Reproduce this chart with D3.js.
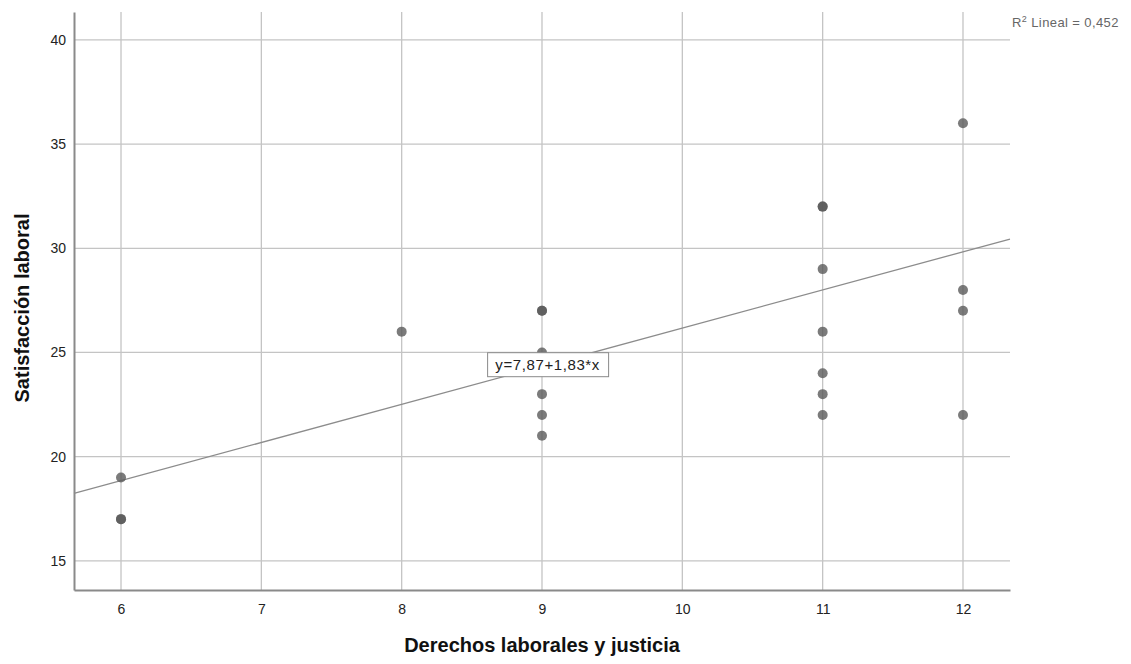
<!DOCTYPE html>
<html>
<head>
<meta charset="utf-8">
<script src="https://cdn.jsdelivr.net/npm/d3@7"></script>
<style>
  html, body { margin: 0; padding: 0; background: #ffffff; }
  svg { display: block; font-family: "Liberation Sans", Arial, sans-serif; }
</style>
</head>
<body>
<div id="chart"></div>
<script>
// datos (los puntos más oscuros son casos repetidos)
const derechos = [6, 6, 6, 8, 9, 9, 9, 9, 9, 9, 11, 11, 11, 11, 11, 11, 11, 12, 12, 12, 12];
const satisfaccion = [19, 17, 17, 26, 27, 27, 25, 23, 22, 21, 32, 32, 29, 26, 24, 23, 22, 36, 28, 27, 22];
const xTicks = [6, 7, 8, 9, 10, 11, 12];
const yTicks = [15, 20, 25, 30, 35, 40];
const intercepto = 7.87;
const pendiente = 1.83;
const etiquetaRecta = "y=7,87+1,83*x";

const width = 1131;
const height = 664;
const margin = { top: 12, right: 121, bottom: 74, left: 74 };

const svg = d3.select("#chart")
  .append("svg")
  .attr("width", width)
  .attr("height", height);

const x = d3.scaleLinear()
  .domain([5.665, 12.335])
  .range([margin.left, width - margin.right]);

const y = d3.scaleLinear()
  .domain([13.6, 41.34])
  .range([height - margin.bottom, margin.top]);

// rejilla
svg.append("g")
  .selectAll("line")
  .data(yTicks)
  .join("line")
  .attr("x1", margin.left)
  .attr("x2", width - margin.right)
  .attr("y1", d => y(d))
  .attr("y2", d => y(d))
  .attr("stroke", "#c4c4c4")
  .attr("stroke-width", 1.3);

svg.append("g")
  .selectAll("line")
  .data(xTicks)
  .join("line")
  .attr("x1", d => x(d))
  .attr("x2", d => x(d))
  .attr("y1", margin.top)
  .attr("y2", height - margin.bottom)
  .attr("stroke", "#c4c4c4")
  .attr("stroke-width", 1.3);

// ejes
const xAxis = svg.append("g")
  .attr("transform", `translate(0,${height - margin.bottom})`)
  .call(d3.axisBottom(x).tickValues(xTicks).tickSize(0).tickPadding(14).tickFormat(d3.format("d")));

const yAxis = svg.append("g")
  .attr("transform", `translate(${margin.left},0)`)
  .call(d3.axisLeft(y).tickValues(yTicks).tickSize(0).tickPadding(8).tickFormat(d3.format("d")));

[xAxis, yAxis].forEach(a => {
  a.select(".domain").attr("stroke", "#8a8a8a").attr("stroke-width", 2);
  a.selectAll("text")
    .attr("fill", "#222")
    .attr("font-size", 14)
    .attr("font-family", "'Liberation Sans', Arial, sans-serif");
});

// recta de regresión
const [x0, x1] = x.domain();
svg.append("line")
  .attr("x1", x(x0))
  .attr("y1", y(intercepto + pendiente * x0))
  .attr("x2", x(x1))
  .attr("y2", y(intercepto + pendiente * x1))
  .attr("stroke", "#8c8c8c")
  .attr("stroke-width", 1.3);

// puntos
svg.append("g")
  .selectAll("circle")
  .data(derechos.map((d, i) => ({ x: d, y: satisfaccion[i] })))
  .join("circle")
  .attr("cx", d => x(d.x))
  .attr("cy", d => y(d.y))
  .attr("r", 5)
  .attr("fill", "#5a5a5a")
  .attr("fill-opacity", 0.8);

// etiqueta de la recta
const lx = 9.04;
const ly = intercepto + pendiente * lx;
const etiqueta = svg.append("g")
  .attr("transform", `translate(${x(lx)},${y(ly)})`);
etiqueta.append("rect")
  .attr("x", -60)
  .attr("y", -12)
  .attr("width", 121)
  .attr("height", 24)
  .attr("fill", "#ffffff")
  .attr("stroke", "#8a8a8a")
  .attr("stroke-width", 1);
etiqueta.append("text")
  .attr("text-anchor", "middle")
  .attr("dy", "0.36em")
  .attr("font-size", 15)
  .attr("letter-spacing", 0.6)
  .attr("fill", "#222")
  .text(etiquetaRecta);

// R²
const r2 = svg.append("text")
  .attr("x", 1012)
  .attr("y", 27)
  .attr("font-size", 13)
  .attr("letter-spacing", 0.4)
  .attr("fill", "#666");
r2.append("tspan").text("R");
r2.append("tspan").attr("font-size", 9).attr("dy", -5).text("2");
r2.append("tspan").attr("dy", 5).text(" Lineal = 0,452");

// títulos de ejes
svg.append("text")
  .attr("x", 542)
  .attr("y", 652)
  .attr("text-anchor", "middle")
  .attr("font-size", 20)
  .attr("font-weight", "bold")
  .attr("fill", "#111")
  .text("Derechos laborales y justicia");

svg.append("text")
  .attr("transform", `translate(29,${(margin.top + height - margin.bottom) / 2 + 7}) rotate(-90)`)
  .attr("text-anchor", "middle")
  .attr("font-size", 20)
  .attr("font-weight", "bold")
  .attr("fill", "#111")
  .text("Satisfacción laboral");
</script>
</body>
</html>
